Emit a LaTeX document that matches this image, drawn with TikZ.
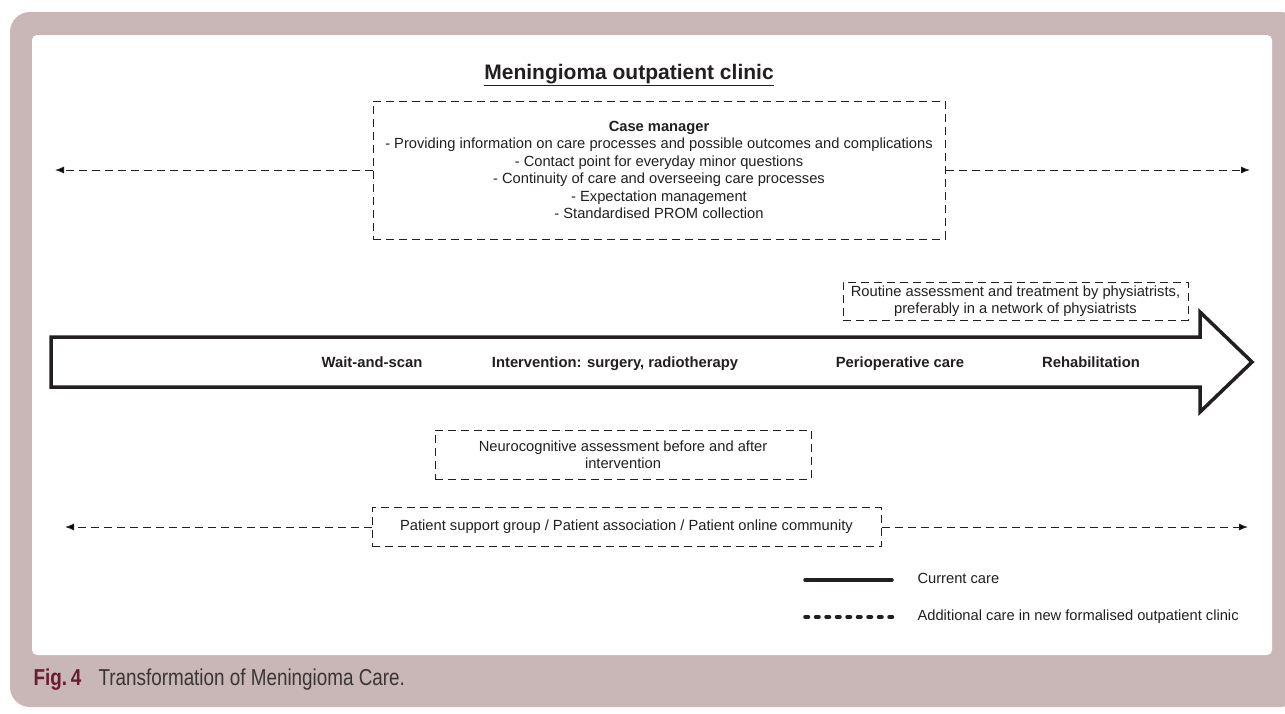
\documentclass[tikz,border=0pt]{standalone}
\usepackage{fontspec}
\setmainfont{Liberation Sans}
\newfontfamily\capfont[FakeStretch=0.82]{Liberation Sans}
\usetikzlibrary{arrows.meta,positioning}
\definecolor{framecol}{HTML}{C9B6B6}
\definecolor{inkcol}{HTML}{231F20}
\definecolor{figcol}{HTML}{6A1B33}
\tikzset{
  dbox/.style={draw=inkcol, dash pattern=on 8pt off 5pt, line width=1pt, text=inkcol, align=center, inner sep=0pt, font=\fontsize{14.7}{17.5}\selectfont},
  dline/.style={draw=inkcol, dash pattern=on 8pt off 5pt, line width=1pt, -{Latex[length=9pt,width=7pt]}},
  lbl/.style={text=inkcol, anchor=base, font=\fontsize{14.8}{17}\selectfont\bfseries},
  key/.style={text=inkcol, anchor=west, font=\fontsize{14.7}{17}\selectfont}
}
\begin{document}
\begin{tikzpicture}[x=1pt, y=-1pt]
      \useasboundingbox (0,0) rectangle (1285,713);
      \fill[framecol, rounded corners=20pt] (10,12) rectangle (1300,707);
      \fill[white, rounded corners=5pt] (32,35) rectangle (1272,655);

      \node[text=inkcol, font=\fontsize{21}{24}\selectfont\bfseries] (title) at (629,75) {\underline{Meningioma outpatient clinic}};
      \node[dbox, minimum width=572, minimum height=138] (case) at (659,170)
        {\textbf{Case manager}\\
         - Providing information on care processes and possible outcomes and complications\\
         - Contact point for everyday minor questions\\
         - Continuity of care and overseeing care processes\\
         - Expectation management\\
         - Standardised PROM collection};
      \node[dbox, minimum width=345, minimum height=38] (rout) at (1015.5,301)
        {Routine assessment and treatment by physiatrists,\\ preferably in a network of physiatrists};
      \node[dbox, minimum width=376, minimum height=49] (neuro) at (623,454.5)
        {Neurocognitive assessment before and after\\ intervention};
      \node[dbox, minimum width=509, minimum height=39] (supp) at (626.5,527)
        {Patient support group / Patient association / Patient online community};

      \coordinate (cl) at (55,170);
      \coordinate (cr) at (1250,170);
      \coordinate (sl) at (65,527);
      \coordinate (sr) at (1248,527);
      \path[dline] (case) edge (cl);
      \path[dline] (case) edge (cr);
      \path[dline] (supp) edge (sl);
      \path[dline] (supp) edge (sr);

      \draw[inkcol, line width=3.5pt, line join=miter]
        (51,337) -- (1200,337) -- (1200,312) -- (1252,362) -- (1200,412) -- (1200,387) -- (51,387) -- cycle;
      \node[lbl] (wait) at (372,367) {Wait-and-scan};
      \node[lbl] (intv) at (615,367) {Intervention: surgery, radiotherapy};
      \node[lbl] (peri) at (900,367) {Perioperative care};
      \node[lbl] (reha) at (1091,367) {Rehabilitation};

      \coordinate (k1a) at (805,580);
      \coordinate (k1b) at (892,580);
      \coordinate (k2a) at (805,617);
      \coordinate (k2b) at (894,617);
      \draw[inkcol, line width=3.5pt, line cap=round] (k1a) -- (k1b);
      \draw[inkcol, line width=3.5pt, line cap=round, dash pattern=on 3.5pt off 7pt] (k2a) -- (k2b);
      \node[key] (cur) at (914,578) {Current care};
      \node[key] (add) at (914,617) {Additional care in new formalised outpatient clinic};

      \node[anchor=base west, text=figcol, font=\capfont\fontsize{23}{26}\selectfont\bfseries] (fig) at (30,685) {Fig.\,4};
      \node[anchor=base west, text=inkcol!90, font=\capfont\fontsize{23}{26}\selectfont] (cap) at (95,685) {Transformation of Meningioma Care.};
    \end{tikzpicture}
\end{document}
